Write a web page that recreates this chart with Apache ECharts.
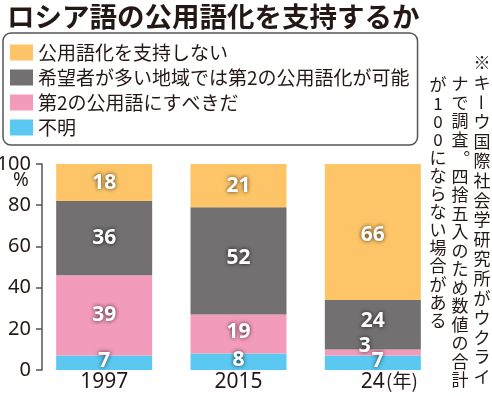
<!DOCTYPE html>
<html><head><meta charset="utf-8">
<script src="https://cdn.jsdelivr.net/npm/echarts@6/dist/echarts.min.js"></script>
<style>html,body{margin:0;padding:0;background:#fff}#c{width:492px;height:396px}</style>
</head><body><div id="c"></div>
<script>
const categories = ['1997', '2015', '24'];
const unknown = [7, 8, 7];
const shouldBeSecond = [39, 19, 3];
const possibleRegional = [36, 52, 24];
const notSupport = [18, 21, 66];
const yTicks = [0, 20, 40, 60, 80, 100];
const seriesNames = ['不明', '第2の公用語にすべきだ', '希望者が多い地域では第2の公用語化が可能', '公用語化を支持しない'];
const legendOrder = ['公用語化を支持しない', '希望者が多い地域では第2の公用語化が可能', '第2の公用語にすべきだ', '不明'];
const titleText = 'ロシア語の公用語化を支持するか';
const noteColumns = ['※キーウ国際社会学研究所がウクライ', 'ナで調査。四捨五入のため数値の合計', 'が100にならない場合がある'];

const JP = '"Noto Sans CJK JP", "Noto Sans", sans-serif';
const NUM = '"Noto Sans", "Open Sans", sans-serif';
const TXT = '#231815';
const colors = ['#5AC8F0', '#F39BBB', '#727071', '#FDC567'];

const labelBase = {
  show: true, position: 'inside', color: '#fff', fontFamily: NUM, fontWeight: 'bold', fontSize: 21,
  textShadowColor: 'rgba(0,0,0,0.75)', textShadowBlur: 4
};

function mk(name, arr, color, offsets) {
  return {
    name: name, type: 'bar', stack: 'a', barWidth: 96,
    itemStyle: { color: color },
    label: labelBase,
    data: arr.map((v, i) => {
      const d = { value: v };
      if (offsets && offsets[i]) d.label = { offset: offsets[i] };
      return d;
    })
  };
}

// vertical note
const noteGeom = [
  { x: 482, y0: 63, pitch: 19.6 },
  { x: 460, y0: 84, pitch: 18.5 },
  { x: 438, y0: 85, pitch: 18.1 }
];
const graphics = [];
noteColumns.forEach((col, ci) => {
  const g = noteGeom[ci];
  Array.from(col).forEach((ch, i) => {
    let x = g.x, y = g.y0 + i * g.pitch, rot = 0;
    if (ch === 'ー') rot = Math.PI / 2;
    if (ch === '。') { x += 12; y -= 9; }
    graphics.push({
      type: 'text', x: x, y: y, rotation: rot,
      style: { text: ch, fill: TXT, font: '17px ' + JP, textAlign: 'center', textVerticalAlign: 'middle' }
    });
  });
});
graphics.push({ type: 'text', x: 21, y: 181, style: { text: '%', fill: TXT, font: '19px ' + NUM, textAlign: 'center', textVerticalAlign: 'middle' } });
graphics.push({ type: 'text', x: 386, y: 381, style: { text: '(年)', fill: TXT, font: '19px ' + JP, textAlign: 'left', textVerticalAlign: 'middle' } });

const chart = echarts.init(document.getElementById('c'));
chart.setOption({
  animation: false,
  title: { text: titleText, left: 7, top: 3, padding: 0, textStyle: { fontSize: 27.5, fontWeight: 'bold', color: TXT, fontFamily: JP } },
  legend: {
    data: legendOrder, orient: 'vertical', left: 3, top: 33,
    padding: [10, 8, 8, 7], itemGap: 6, itemWidth: 23, itemHeight: 16, icon: 'rect',
    borderColor: '#555', borderWidth: 1.5, borderRadius: 8,
    textStyle: { fontSize: 19, color: TXT, fontFamily: JP, lineHeight: 19, padding: [0, 0, 0, 0] },
    itemStyle: { borderWidth: 0 }
  },
  grid: { left: 37, width: 403, top: 164, bottom: 26, outerBoundsMode: 'none', containLabel: false },
  xAxis: {
    type: 'category', data: categories,
    axisLine: { show: false }, axisTick: { show: false },
    axisLabel: { fontSize: 21, color: TXT, fontFamily: NUM, margin: 2 }
  },
  yAxis: {
    type: 'value', min: 0, max: 100, interval: 20, offset: -5,
    axisLine: { show: true, lineStyle: { color: '#555', width: 1.5 } },
    axisTick: { show: true, length: 6, lineStyle: { color: '#555', width: 1.5 } },
    splitLine: { show: false },
    axisLabel: { fontSize: 20, color: TXT, fontFamily: NUM, margin: 11,
      formatter: v => yTicks.includes(v) ? String(v) : '' }
  },
  series: [
    mk(seriesNames[0], unknown, colors[0], [[0, -2], [0, -2], [5, -2]]),
    mk(seriesNames[1], shouldBeSecond, colors[1], [null, [0, -2], [-8, -6]]),
    mk(seriesNames[2], possibleRegional, colors[2], [null, [0, -3], [0, -4]]),
    mk(seriesNames[3], notSupport, colors[3], [null, null, [0, 3]])
  ],
  graphic: graphics
});
</script></body></html>
